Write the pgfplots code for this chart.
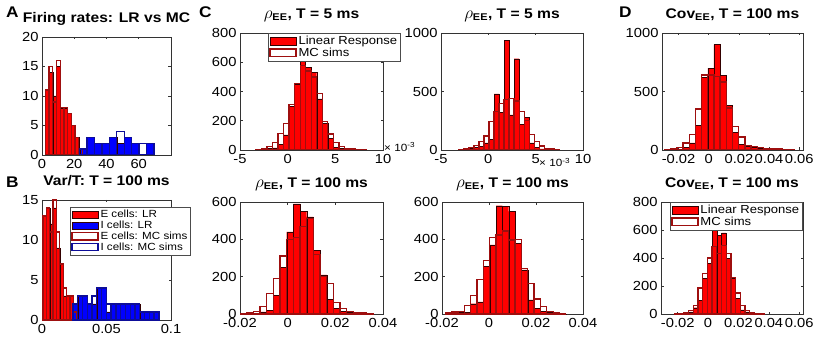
\documentclass[border=0pt]{standalone}
\usepackage{fontspec}
\setmainfont{Liberation Sans}[FakeStretch=1.12]
\usepackage{pgfplots}
\pgfplotsset{compat=1.18}

\definecolor{mcred}{rgb}{0.62,0.06,0.06}
\definecolor{mcblue}{rgb}{0.05,0.05,0.6}
\definecolor{lredge}{rgb}{0.2,0,0}

\newcommand{\rhoee}{{\fontsize{17}{17}\selectfont$\rho$}\textsubscript{EE}}

\pgfplotsset{
  hax/.style={
    scale only axis, enlargelimits=false, anchor=south west,
    axis line style={draw=black!80, line width=0.6bp},
    tick style={black!80, line width=0.6bp}, major tick length=2.5bp,
    tick align=inside,
    tick label style={font=\fontsize{13.2}{14}\selectfont},
    xticklabel style={yshift=-1bp},
    /pgf/number format/assume math mode=true,
    /pgf/number format/1000 sep={}, scaled ticks=false,
    title style={font=\fontsize{14}{15}\selectfont\bfseries,
      at={(0.5,1)}, anchor=base, yshift=8.5bp},
    legend image code/.code={\draw[##1] (0bp,-3.5bp) rectangle (26bp,4bp);},
    legend style={font=\fontsize{11.7}{12}\selectfont, draw=black!70,
      line width=0.5bp, cells={anchor=west}, inner sep=1bp, row sep=-2bp,
      anchor=north west},
  },
  lr/.style={ybar, bar shift=0pt, fill=red, draw=lredge, line width=0.4bp},
  mc/.style={ybar, bar shift=0pt, draw=mcred, fill=none, line width=1.3bp},
}

\begin{document}
\begin{tikzpicture}
\path[use as bounding box] (0,0) rectangle (830bp,346bp);

% ---- A
\begin{axis}[hax, at={(42bp,191bp)}, width=129bp, height=118bp,
  xmin=0, xmax=80, ymin=0, ymax=20, xtick={0,20,40,60}, ytick={0,5,10,15,20},
  title={Firing rates: LR vs MC}]
\addplot[lr, bar width=2.3] coordinates {(3.25,11)(5.55,14)(7.85,10)(10.15,15)(12.45,8)(14.75,8)(17.05,7)(19.35,5)(21.65,3)};
\addplot[lr, fill=blue, bar width=4.6] coordinates {(25.7,1)(30.3,3)(34.9,2)(39.5,2)(44.1,3)(48.7,2)(53.3,3)(57.9,2)(67.1,2)};
\addplot[mc, bar width=2.3] coordinates {(3.25,11)(5.55,15)(7.85,9)(10.15,16)(12.45,8)(14.75,8)(17.05,7)(19.35,5)(21.65,3)(23.95,1)};
\addplot[mc, draw=mcblue, bar width=4.6] coordinates {(25.7,1)(30.3,3)(34.9,2)(39.5,2)(44.1,3)(48.7,4)(53.3,3)(57.9,2)(62.5,2)(67.1,2)};
\end{axis}

% ---- B
\begin{axis}[hax, at={(42bp,26bp)}, width=129bp, height=120bp,
  xmin=0, xmax=0.1, ymin=0, ymax=15, xtick={0,0.05,0.1}, xticklabels={0,0.05,0.1},
  ytick={0,5,10,15}, title={Var/T: T = 100 ms},
  legend style={at={(0.217,0.94)}, font=\fontsize{10.4}{11}\selectfont, row sep=-2.2bp}]
\addplot[lr, bar width=0.0026] coordinates {(0.0021,13)(0.0047,14)(0.0073,12)(0.0099,14)(0.0125,9)(0.0151,7)(0.0177,3)(0.0203,3)(0.0229,3)};
\addlegendentry{E cells: LR}
\addplot[lr, fill=blue, bar width=0.0037] coordinates {(0.02585,2)(0.02955,3)(0.03325,3)(0.03695,2)(0.04065,2)(0.04435,4)(0.04805,4)(0.05175,1)(0.05545,2)(0.05915,2)(0.06285,2)(0.06655,2)(0.07025,2)(0.07395,2)(0.07765,1)(0.08135,1)(0.08505,1)(0.08875,1)};
\addlegendentry{I cells: LR}
\addplot[mc, bar width=0.0026] coordinates {(0.0021,13)(0.0047,14)(0.0073,11)(0.0099,15)(0.0125,11)(0.0151,7)(0.0177,4)(0.0203,3)(0.0229,3)(0.0255,1)};
\addlegendentry{E cells: MC sims}
\addplot[mc, draw=mcblue, bar width=0.0037] coordinates {(0.02585,2)(0.02955,3)(0.03325,3)(0.03695,2)(0.04065,3)(0.04435,4)(0.04805,4)(0.05175,2)(0.05545,2)(0.05915,2)(0.06285,2)(0.06655,2)(0.07025,2)(0.07395,2)(0.07765,1)(0.08135,1)(0.08505,1)(0.08875,1)};
\addlegendentry{I cells: MC sims}
\end{axis}

% ---- C top left
\begin{axis}[hax, at={(240bp,196bp)}, width=143bp, height=117bp,
  xmin=-5, xmax=10, ymin=0, ymax=800, xtick={-5,0,5,10}, xticklabels={-5,0,5,10},
  ytick={0,200,400,600,800}, title={\rhoee, T = 5 ms},
  legend style={at={(0.196,1)}}]
\addplot[lr, bar width=0.58] coordinates {(-3.04,2)(-2.46,5)(-1.88,10)(-1.30,15)(-0.72,40)(-0.14,104)(0.44,300)(1.02,450)(1.60,620)(2.18,565)(2.76,530)(3.34,350)(3.92,180)(4.50,80)(5.08,20)(5.66,10)(6.24,5)(6.82,2)(7.40,1)};
\addlegendentry{Linear Response}
\addplot[mc, bar width=0.58] coordinates {(-3.04,5)(-2.46,10)(-1.88,25)(-1.30,50)(-0.72,115)(-0.14,180)(0.44,310)(1.02,455)(1.60,580)(2.18,540)(2.76,500)(3.34,385)(3.92,195)(4.50,110)(5.08,50)(5.66,25)(6.24,12)(6.82,6)(7.40,3)(7.98,2)};
\addlegendentry{MC sims}
\end{axis}

% ---- C top right
\begin{axis}[hax, at={(441bp,196bp)}, width=142bp, height=117bp,
  xmin=-5, xmax=10, ymin=0, ymax=1000, xtick={-5,0,5,10}, xticklabels={-5,0,5,10},
  ytick={0,500,1000}, title={\rhoee, T = 5 ms}]
\addplot[lr, bar width=0.53] coordinates {(-2.84,3)(-2.31,8)(-1.78,15)(-1.25,25)(-0.72,30)(-0.19,60)(0.34,90)(0.87,480)(1.40,320)(1.93,940)(2.46,300)(2.99,780)(3.52,220)(4.05,280)(4.58,60)(5.11,25)(5.64,10)(6.17,5)(6.70,2)(7.23,1)};
\addplot[mc, bar width=0.53] coordinates {(-2.84,5)(-2.31,10)(-1.78,20)(-1.25,40)(-0.72,75)(-0.19,120)(0.34,245)(0.87,330)(1.40,395)(1.93,430)(2.46,440)(2.99,420)(3.52,330)(4.05,250)(4.58,130)(5.11,70)(5.64,35)(6.17,15)(6.70,8)(7.23,3)};
\end{axis}

% ---- C bottom left
\begin{axis}[hax, at={(240bp,32bp)}, width=143bp, height=112bp,
  xmin=-0.02, xmax=0.04, ymin=0, ymax=600, xtick={-0.02,0,0.02,0.04},
  xticklabels={-0.02,0,0.02,0.04}, ytick={0,200,400,600},
  title={\rhoee, T = 100 ms}]
\addplot[lr, bar width=0.0028] coordinates {(-0.0186,1)(-0.0158,2)(-0.0130,5)(-0.0102,12)(-0.0074,20)(-0.0046,100)(-0.0018,250)(0.0010,440)(0.0038,590)(0.0066,550)(0.0094,520)(0.0122,340)(0.0150,210)(0.0178,80)(0.0206,30)(0.0234,15)(0.0262,8)(0.0290,5)(0.0318,2)(0.0346,1)};
\addplot[mc, bar width=0.0028] coordinates {(-0.0186,3)(-0.0158,8)(-0.0130,15)(-0.0102,40)(-0.0074,110)(-0.0046,190)(-0.0018,310)(0.0010,400)(0.0038,410)(0.0066,470)(0.0094,510)(0.0122,320)(0.0150,200)(0.0178,165)(0.0206,62)(0.0234,28)(0.0262,15)(0.0290,8)(0.0318,5)(0.0346,2)};
\end{axis}

% ---- C bottom right
\begin{axis}[hax, at={(442bp,32bp)}, width=141bp, height=112bp,
  xmin=-0.02, xmax=0.04, ymin=0, ymax=600, xtick={-0.02,0,0.02,0.04},
  xticklabels={-0.02,0,0.02,0.04}, ytick={0,200,400,600},
  title={\rhoee, T = 100 ms}]
\addplot[lr, bar width=0.0027] coordinates {(-0.01725,3)(-0.01455,5)(-0.01185,8)(-0.00915,10)(-0.00645,55)(-0.00375,65)(-0.00105,254)(0.00165,370)(0.00435,580)(0.00705,575)(0.00975,550)(0.01245,380)(0.01515,236)(0.01785,76)(0.02055,30)(0.02325,15)(0.02595,8)(0.02865,3)(0.03135,1)};
\addplot[mc, bar width=0.0027] coordinates {(-0.01725,5)(-0.01455,10)(-0.01185,15)(-0.00915,44)(-0.00645,98)(-0.00375,183)(-0.00105,286)(0.00165,410)(0.00435,423)(0.00705,444)(0.00975,396)(0.01245,400)(0.01515,245)(0.01785,165)(0.02055,80)(0.02325,40)(0.02595,15)(0.02865,8)(0.03135,3)};
\end{axis}

% ---- D top
\begin{axis}[hax, at={(662bp,196bp)}, width=141bp, height=117bp,
  xmin=-0.031, xmax=0.0625, ymin=0, ymax=1000, xtick={-0.02,0,0.02,0.04,0.06},
  xticklabels={-0.02,0,0.02,0.04,0.06}, ytick={0,500,1000},
  title={Cov\textsubscript{EE}, T = 100 ms}]
\addplot[lr, bar width=0.0041] coordinates {(-0.0273,2)(-0.0232,5)(-0.0191,8)(-0.0150,20)(-0.0109,60)(-0.0068,210)(-0.0027,620)(0.0014,700)(0.0055,900)(0.0096,640)(0.0137,380)(0.0178,150)(0.0219,50)(0.0260,30)(0.0301,20)(0.0342,15)(0.0383,10)(0.0424,8)(0.0465,5)(0.0506,3)(0.0547,2)};
\addplot[mc, bar width=0.0041] coordinates {(-0.0273,5)(-0.0232,8)(-0.0191,20)(-0.0150,60)(-0.0109,130)(-0.0068,350)(-0.0027,640)(0.0014,640)(0.0055,630)(0.0096,580)(0.0137,360)(0.0178,200)(0.0219,110)(0.0260,40)(0.0301,30)(0.0342,20)(0.0383,15)(0.0424,10)(0.0465,8)(0.0506,5)(0.0547,3)};
\end{axis}

% ---- D bottom
\begin{axis}[hax, at={(661bp,32bp)}, width=142bp, height=112bp,
  xmin=-0.031, xmax=0.0625, ymin=0, ymax=800, xtick={-0.02,0,0.02,0.04,0.06},
  xticklabels={-0.02,0,0.02,0.04,0.06}, ytick={0,200,400,600,800},
  title={Cov\textsubscript{EE}, T = 100 ms},
  legend style={at={(0.063,1)}}]
\addplot[lr, bar width=0.0031] coordinates {(-0.0206,1)(-0.0175,2)(-0.0144,5)(-0.0113,15)(-0.0082,45)(-0.0051,100)(-0.0020,255)(0.0011,360)(0.0042,600)(0.0073,560)(0.0104,580)(0.0135,400)(0.0166,255)(0.0197,110)(0.0228,30)(0.0259,15)(0.0290,8)(0.0321,3)(0.0352,1)};
\addlegendentry{Linear Response}
\addplot[mc, bar width=0.0031] coordinates {(-0.0206,3)(-0.0175,5)(-0.0144,10)(-0.0113,25)(-0.0082,60)(-0.0051,185)(-0.0020,290)(0.0011,400)(0.0042,480)(0.0073,430)(0.0104,490)(0.0135,430)(0.0166,260)(0.0197,150)(0.0228,60)(0.0259,25)(0.0290,10)(0.0321,5)(0.0352,2)};
\addlegendentry{MC sims}
\end{axis}

% exponent labels
\node[anchor=base west, font=\fontsize{10.5}{11}\selectfont, inner sep=0pt] at (384bp,194.5bp) {× 10\textsuperscript{-3}};
\node[anchor=base west, font=\fontsize{10.5}{11}\selectfont, inner sep=0pt] at (539bp,179bp) {× 10\textsuperscript{-3}};

% panel letters
\begin{scope}[every node/.style={anchor=base west, inner sep=0pt, font=\fontsize{15.5}{16}\selectfont\bfseries}]
\node at (6bp,328bp) {A};
\node at (6bp,158.5bp) {B};
\node at (199bp,328bp) {C};
\node at (619bp,328bp) {D};
\end{scope}
\end{tikzpicture}
\end{document}
